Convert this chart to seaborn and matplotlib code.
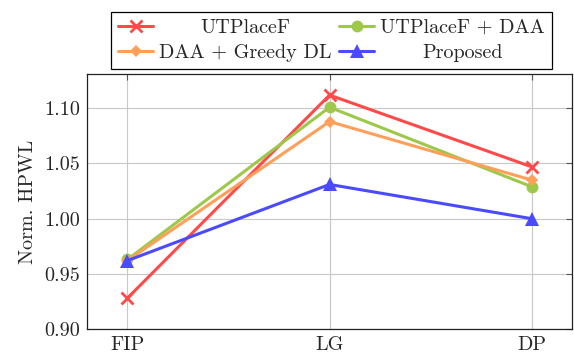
import matplotlib
matplotlib.use("Agg")
import matplotlib.pyplot as plt
import seaborn as sns
import pandas as pd
from matplotlib.ticker import FormatStrFormatter, FixedLocator

stages = ["FIP", "LG", "DP"]
series_names = ["UTPlaceF", "DAA + Greedy DL", "UTPlaceF + DAA", "Proposed"]
utplacef = [0.928, 1.112, 1.047]
daa_greedy = [0.962, 1.088, 1.035]
utplacef_daa = [0.963, 1.101, 1.029]
proposed = [0.962, 1.031, 1.000]
y_ticks = [0.90, 0.95, 1.00, 1.05, 1.10]

values = {
    "UTPlaceF": utplacef,
    "DAA + Greedy DL": daa_greedy,
    "UTPlaceF + DAA": utplacef_daa,
    "Proposed": proposed,
}
rows = []
for name in series_names:
    for i, st in enumerate(stages):
        rows.append({"series": name, "x": i, "stage": st, "value": values[name][i]})
df = pd.DataFrame(rows)

sns.set_style("white")
plt.rcParams["font.family"] = ["cmr10", "DejaVu Serif"]
plt.rcParams["mathtext.fontset"] = "cm"
plt.rcParams["axes.formatter.use_mathtext"] = True

FS = 14.5
palette = {
    "UTPlaceF": "#ff4a4a",
    "DAA + Greedy DL": "#ff9f5a",
    "UTPlaceF + DAA": "#9dc84a",
    "Proposed": "#4a4aff",
}
markers = {
    "UTPlaceF": "x",
    "DAA + Greedy DL": "D",
    "UTPlaceF + DAA": "o",
    "Proposed": "^",
}
msizes = {"UTPlaceF": 9, "DAA + Greedy DL": 6.5, "UTPlaceF + DAA": 8.5, "Proposed": 9.5}

fig = plt.figure(figsize=(5.74, 3.53), dpi=100)
ax = fig.add_axes([0.1516, 0.068, 0.845, 0.722])

handles = {}
for name in ["UTPlaceF", "UTPlaceF + DAA", "DAA + Greedy DL", "Proposed"]:
    sub = df[df["series"] == name]
    sns.lineplot(data=sub, x="x", y="value", ax=ax, color=palette[name],
                 marker=markers[name], markersize=msizes[name], linewidth=2.2,
                 markeredgewidth=2.0 if name == "UTPlaceF" else 0,
                 markeredgecolor=palette[name], label=name, legend=False)
    handles[name] = ax.lines[-1]

ax.set_xlim(-0.2, 2.2)
ax.set_ylim(0.9, 1.131)
ax.xaxis.set_major_locator(FixedLocator([0, 1, 2]))
ax.set_xticklabels(stages)
ax.yaxis.set_major_locator(FixedLocator(y_ticks))
ax.yaxis.set_major_formatter(FormatStrFormatter("%.2f"))
ax.grid(True, color="#c8c8c8", linewidth=0.8)
ax.set_axisbelow(True)
ax.set_xlabel("")
ax.set_ylabel("Norm. HPWL", fontsize=FS, labelpad=5)
ax.tick_params(axis="both", direction="in", length=4, width=0.8, color="#555555",
               labelsize=FS, top=True, right=True, pad=5)
for sp in ax.spines.values():
    sp.set_color("#222222")
    sp.set_linewidth(0.9)

order_cols = ["UTPlaceF", "DAA + Greedy DL", "UTPlaceF + DAA", "Proposed"]
leg = fig.legend([handles[n] for n in order_cols], order_cols, ncol=2,
                 loc="upper center", bbox_to_anchor=(0.5775, 0.995),
                 fontsize=FS, frameon=True, fancybox=False, edgecolor="black",
                 framealpha=1, handlelength=1.75, columnspacing=0.35,
                 handletextpad=0.3, borderpad=0.33, labelspacing=0.38)
leg.get_frame().set_linewidth(0.9)

# center legend texts within their columns (pgfplots style)
fig.canvas.draw()
renderer = fig.canvas.get_renderer()
texts = leg.get_texts()
widths = [t.get_window_extent(renderer).width for t in texts]
col1 = max(widths[0], widths[1])
col2 = max(widths[2], widths[3])
for t, w, cw in zip(texts, widths, [col1, col1, col2, col2]):
    t.set_x((cw - w) / 2.0)

fig.savefig("out.png", dpi=100)
